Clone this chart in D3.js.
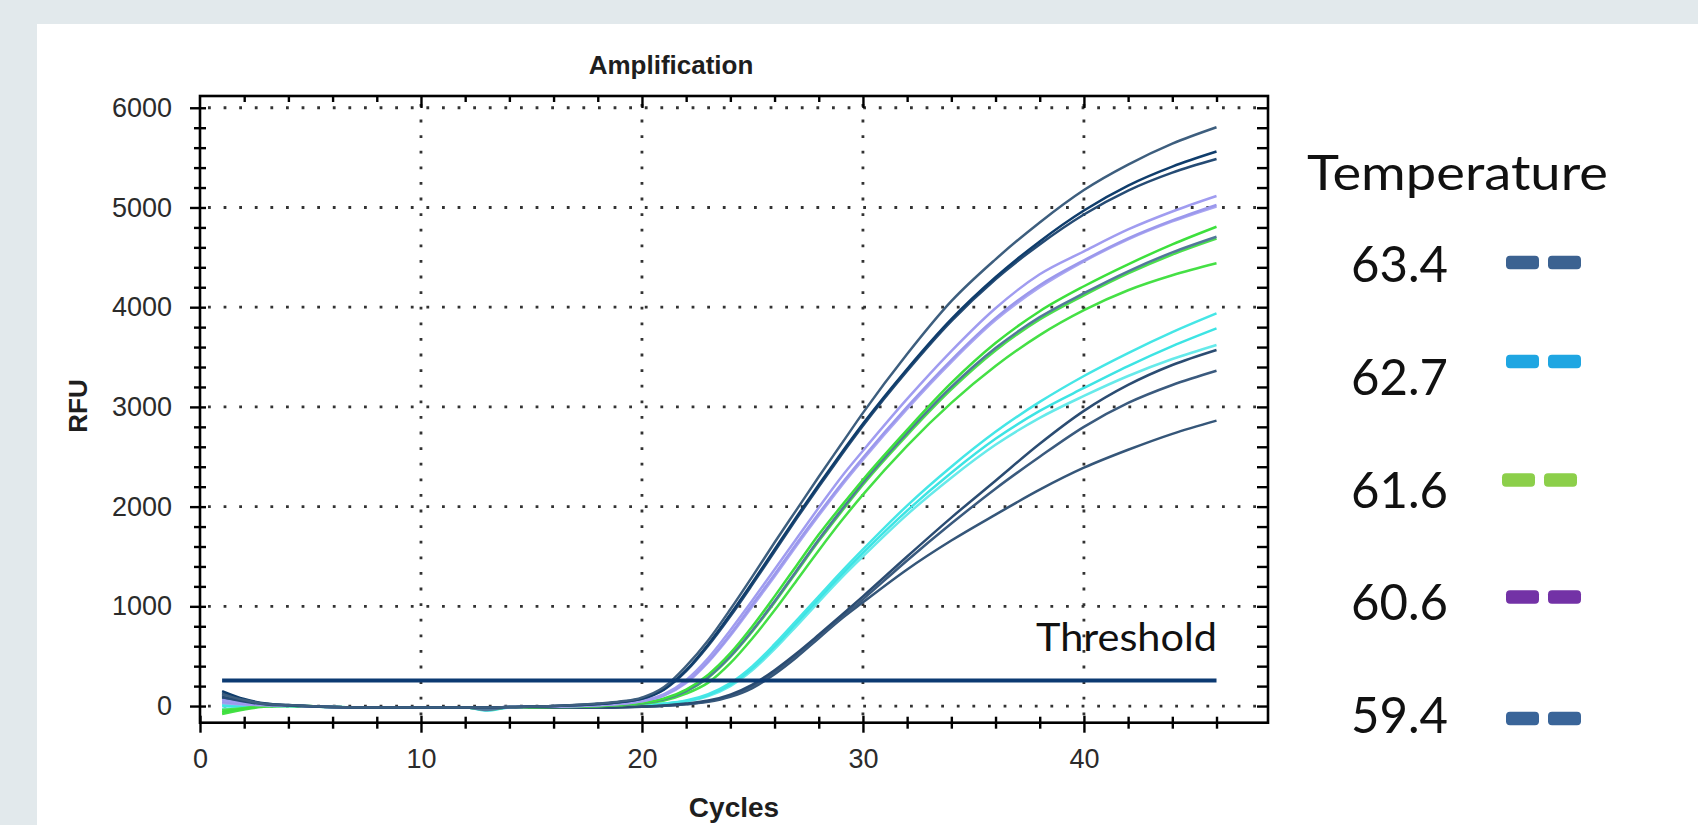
<!DOCTYPE html>
<html>
<head>
<meta charset="utf-8">
<script src="https://cdn.jsdelivr.net/npm/d3@7"></script>
<style>
  html, body { margin: 0; padding: 0; background: #e2e9ec; }
  svg { display: block; }
</style>
</head>
<body>
<svg id="chart" width="1698" height="825"></svg>
<script>
// ---- Data ----
var CYCLES = [1,2,3,4,6,8,10,12,13,14,16,18,19,20,21,22,23,24,25,26,27,28,29,30,32,34,36,38,40,42,44,46];

// early dark wells
var rfuDark1 = [120,60,20,10,-10,-15,-15,-15,-15,-10,0,25,45,85,190,400,660,970,1300,1640,1970,2300,2620,2940,3530,4060,4480,4850,5175,5430,5640,5805];
var rfuDark2 = [150,70,25,10,-10,-15,-15,-15,-15,-10,0,20,40,75,170,360,620,920,1240,1570,1900,2220,2530,2830,3380,3880,4300,4660,4970,5220,5410,5561];
var rfuDark3 = [90,45,15,5,-10,-15,-15,-15,-15,-10,0,20,38,72,165,350,605,900,1220,1550,1880,2200,2510,2810,3360,3860,4280,4630,4930,5170,5350,5487];
// lavender wells
var rfuLav1 = [60,30,10,5,-10,-15,-15,-15,-15,-10,-5,10,25,55,120,260,480,760,1060,1370,1680,1990,2290,2560,3080,3560,3990,4330,4560,4780,4960,5115];
var rfuLav2 = [40,20,10,5,-10,-15,-15,-15,-15,-10,-5,8,22,50,110,240,450,720,1020,1320,1630,1930,2220,2490,3000,3470,3890,4220,4470,4690,4870,5025];
var rfuLav3 = [30,15,8,5,-10,-15,-15,-15,-15,-10,-5,8,20,48,105,230,440,705,1000,1300,1610,1910,2200,2470,2980,3450,3870,4200,4460,4680,4860,5010];
// green wells (one grey-blue trace lies over a green one)
var rfuGreen1 = [-60,-25,0,5,-10,-15,-15,-15,-18,-10,-8,0,12,32,75,165,315,530,800,1100,1410,1720,2000,2270,2770,3240,3640,3960,4210,4430,4630,4807];
var rfuGreen2 = [-40,-20,0,5,-10,-15,-15,-15,-30,-10,-8,0,10,27,66,146,284,492,750,1038,1346,1654,1942,2220,2718,3176,3566,3876,4118,4338,4528,4688];
var rfuSlate = [100,45,15,5,-10,-15,-15,-15,-40,-12,-8,0,10,28,68,150,290,500,760,1050,1360,1670,1960,2240,2740,3200,3590,3900,4140,4360,4550,4707];
var rfuGreen3 = [-80,-35,-5,0,-10,-15,-15,-15,-35,-12,-10,-2,8,22,55,125,235,430,680,960,1260,1560,1850,2120,2610,3040,3410,3720,3970,4170,4320,4440];
// cyan wells
var rfuCyan1 = [20,10,5,0,-10,-15,-15,-15,-45,-15,-10,-8,0,10,25,55,120,230,400,620,860,1100,1340,1570,2010,2400,2750,3050,3310,3540,3750,3938];
var rfuCyan2 = [0,0,0,0,-10,-15,-15,-15,-40,-15,-10,-8,0,8,22,50,110,215,380,595,835,1075,1310,1535,1960,2340,2680,2960,3190,3410,3610,3788];
var rfuCyan3 = [-30,-15,-5,0,-10,-15,-15,-15,-35,-15,-10,-8,-2,6,20,45,100,200,360,570,805,1045,1280,1500,1920,2290,2620,2890,3110,3310,3480,3621];
// late dark wells
var rfuLate1 = [110,50,15,5,-10,-15,-15,-15,-15,-12,-15,-15,-12,-5,5,25,55,115,215,360,530,715,905,1100,1500,1890,2260,2630,2960,3220,3420,3571];
var rfuLate2 = [80,40,12,5,-10,-15,-15,-15,-15,-12,-15,-15,-12,-6,3,20,48,105,200,340,510,695,880,1070,1460,1830,2180,2500,2800,3040,3220,3363];
var rfuLate3 = [130,60,20,5,-10,-15,-15,-15,-15,-12,-15,-15,-12,-6,2,18,42,92,180,320,490,680,870,1040,1370,1660,1920,2170,2390,2570,2730,2862];

var THRESHOLD = 255;
var THRESHOLD_RANGE = [1, 46];

var X_TICKS = [0, 10, 20, 30, 40];
var Y_TICKS = [0, 1000, 2000, 3000, 4000, 5000, 6000];

var LEGEND_LABELS = ["63.4", "62.7", "61.6", "60.6", "59.4"];
var LEGEND_COLORS = ["#3c6291", "#1fa6e2", "#8ccf4a", "#7332a6", "#3a6599"];

// series list, drawn in this order (last on top)
var SERIES = [
    {values: rfuCyan3,  color: "#66eaea"},
    {values: rfuCyan2,  color: "#3de4e4"},
    {values: rfuCyan1,  color: "#45e6e6"},
    {values: rfuLate3,  color: "#355679"},
    {values: rfuLate2,  color: "#3a5a7e"},
    {values: rfuLate1,  color: "#2b4c72"},
    {values: rfuGreen3, color: "#45e045"},
    {values: rfuGreen2, color: "#4ce04c"},
    {values: rfuSlate,  color: "#52789a"},
    {values: rfuGreen1, color: "#3de03d"},
    {values: rfuLav3,   color: "#aaa6f2"},
    {values: rfuLav2,   color: "#9b98ec"},
    {values: rfuLav1,   color: "#a09cf0"},
    {values: rfuDark3,  color: "#254b74"},
    {values: rfuDark2,  color: "#0f3d6c"},
    {values: rfuDark1,  color: "#3d5e7e"}
];

// ---- Layout ----
var W = 1698, H = 825;
var plot = {left: 200, right: 1268, top: 96, bottom: 722.7};
var axisFont = "'Liberation Sans', Arial, sans-serif";
var noteFont = "Lato, 'Open Sans', sans-serif";
var swatchY = [262.5, 361.5, 480, 597, 718.5];   // centres of the legend swatches
var swatchX = [1506, 1506, 1502, 1506, 1506];

var svg = d3.select("#chart");
svg.append("rect").attr("width", W).attr("height", H).attr("fill", "#e2e9ec");
svg.append("rect").attr("x", 37).attr("y", 24).attr("width", W - 37).attr("height", H - 24).attr("fill", "#ffffff");

var x = d3.scaleLinear().domain([0, 48.33]).range([plot.left, plot.right]);
var y = d3.scaleLinear().domain([-167, 6118]).range([plot.bottom, plot.top]);

// dotted grid
var grid = svg.append("g")
    .attr("stroke", "#333")
    .attr("stroke-width", 2.8)
    .attr("stroke-dasharray", "2.8 12.8");
grid.selectAll("line.h").data(Y_TICKS).enter().append("line").attr("class", "h")
    .attr("x1", plot.left + 8).attr("x2", plot.right)
    .attr("y1", function(d){ return y(d); }).attr("y2", function(d){ return y(d); });
grid.selectAll("line.v").data(X_TICKS.filter(function(d){ return d > 0; })).enter().append("line").attr("class", "v")
    .attr("x1", function(d){ return x(d); }).attr("x2", function(d){ return x(d); })
    .attr("y1", plot.top + 8).attr("y2", plot.bottom);

// minor tick positions
var xMinor = d3.range(2, 47, 2).filter(function(d){ return d % 10 != 0; });
var yMinor = d3.range(200, 6001, 200).filter(function(d){ return d % 1000 != 0; });

function styleTicks(g){
    g.select(".domain").remove();
    g.selectAll(".tick line").attr("stroke", "#000").attr("stroke-width", 2.4);
}

// left axis (crossing ticks)
var gLeft = svg.append("g").attr("transform", "translate(" + plot.left + ",0)")
    .call(d3.axisLeft(y).tickValues(Y_TICKS).tickSize(10).tickPadding(18).tickFormat(d3.format("d")));
styleTicks(gLeft);
gLeft.selectAll(".tick line").attr("x1", 6);
gLeft.selectAll("text").attr("font-size", 27).attr("font-family", axisFont).attr("fill", "#2b2b2b");
var gLeftMinor = svg.append("g").attr("transform", "translate(" + plot.left + ",0)")
    .call(d3.axisLeft(y).tickValues(yMinor).tickSize(6).tickFormat(""));
styleTicks(gLeftMinor);
gLeftMinor.selectAll(".tick line").attr("x1", 6);

// bottom axis (crossing ticks)
var gBottom = svg.append("g").attr("transform", "translate(0," + plot.bottom + ")")
    .call(d3.axisBottom(x).tickValues(X_TICKS).tickSize(10).tickPadding(16).tickFormat(d3.format("d")));
styleTicks(gBottom);
gBottom.selectAll(".tick line").attr("y1", -7);
gBottom.selectAll("text").attr("font-size", 27).attr("font-family", axisFont).attr("fill", "#2b2b2b");
var gBottomMinor = svg.append("g").attr("transform", "translate(0," + plot.bottom + ")")
    .call(d3.axisBottom(x).tickValues(xMinor).tickSize(6).tickFormat(""));
styleTicks(gBottomMinor);
gBottomMinor.selectAll(".tick line").attr("y1", -6);

// top and right: inward ticks only
var gTop = svg.append("g").attr("transform", "translate(0," + plot.top + ")")
    .call(d3.axisTop(x).tickValues(X_TICKS.filter(function(d){ return d > 0; })).tickSize(-12).tickFormat(""));
styleTicks(gTop);
var gTopMinor = svg.append("g").attr("transform", "translate(0," + plot.top + ")")
    .call(d3.axisTop(x).tickValues(xMinor).tickSize(-6).tickFormat(""));
styleTicks(gTopMinor);
var gRight = svg.append("g").attr("transform", "translate(" + plot.right + ",0)")
    .call(d3.axisRight(y).tickValues(Y_TICKS.concat(yMinor)).tickSize(-11).tickFormat(""));
styleTicks(gRight);

// frame
svg.append("rect")
    .attr("x", plot.left).attr("y", plot.top)
    .attr("width", plot.right - plot.left).attr("height", plot.bottom - plot.top)
    .attr("fill", "none").attr("stroke", "#000").attr("stroke-width", 2.6);

// amplification curves
var line = d3.line()
    .x(function(d){ return x(d[0]); })
    .y(function(d){ return y(d[1]); })
    .curve(d3.curveMonotoneX);

svg.append("g").selectAll("path")
    .data(SERIES)
    .enter().append("path")
        .attr("d", function(s){ return line(CYCLES.map(function(c, i){ return [c, s.values[i]]; })); })
        .attr("fill", "none")
        .attr("stroke", function(s){ return s.color; })
        .attr("stroke-width", 2.5)
        .attr("stroke-linejoin", "round");

// threshold
svg.append("line")
    .attr("x1", x(THRESHOLD_RANGE[0])).attr("x2", x(THRESHOLD_RANGE[1]))
    .attr("y1", y(THRESHOLD)).attr("y2", y(THRESHOLD))
    .attr("stroke", "#0c3a72").attr("stroke-width", 4);

svg.append("text")
    .attr("x", 1036).attr("y", 651)
    .attr("font-family", noteFont).attr("font-size", 39).attr("fill", "#111")
    .attr("textLength", 181).attr("lengthAdjust", "spacingAndGlyphs")
    .text("Threshold");

// titles
svg.append("text")
    .attr("x", 671).attr("y", 74).attr("text-anchor", "middle")
    .attr("font-family", axisFont).attr("font-weight", "bold").attr("font-size", 26).attr("fill", "#1e1e1e")
    .text("Amplification");
svg.append("text")
    .attr("x", (plot.left + plot.right) / 2).attr("y", 817).attr("text-anchor", "middle")
    .attr("font-family", axisFont).attr("font-weight", "bold").attr("font-size", 28).attr("fill", "#1e1e1e")
    .text("Cycles");
svg.append("text")
    .attr("transform", "translate(78,406) rotate(-90)").attr("text-anchor", "middle").attr("dy", "0.35em")
    .attr("font-family", axisFont).attr("font-weight", "bold").attr("font-size", 26).attr("fill", "#1e1e1e")
    .text("RFU");

// legend
svg.append("text")
    .attr("x", 1307).attr("y", 190)
    .attr("font-family", noteFont).attr("font-size", 49).attr("fill", "#111")
    .attr("textLength", 301).attr("lengthAdjust", "spacingAndGlyphs")
    .text("Temperature");

var legendY = d3.scalePoint().domain(LEGEND_LABELS).range([282, 733]);
var legend = svg.append("g").selectAll("g")
    .data(LEGEND_LABELS)
    .enter().append("g");
legend.append("text")
    .attr("x", 1351).attr("y", function(d){ return legendY(d); })
    .attr("font-family", noteFont).attr("font-size", 50).attr("fill", "#111")
    .attr("textLength", 97).attr("lengthAdjust", "spacingAndGlyphs")
    .text(function(d){ return d; });
[0, 42].forEach(function(dx){
    legend.append("rect")
        .attr("x", function(d, i){ return swatchX[i] + dx; })
        .attr("y", function(d, i){ return swatchY[i] - 6.75; })
        .attr("width", 33).attr("height", 13.5).attr("rx", 4)
        .attr("fill", function(d, i){ return LEGEND_COLORS[i]; });
});
</script>
</body>
</html>
